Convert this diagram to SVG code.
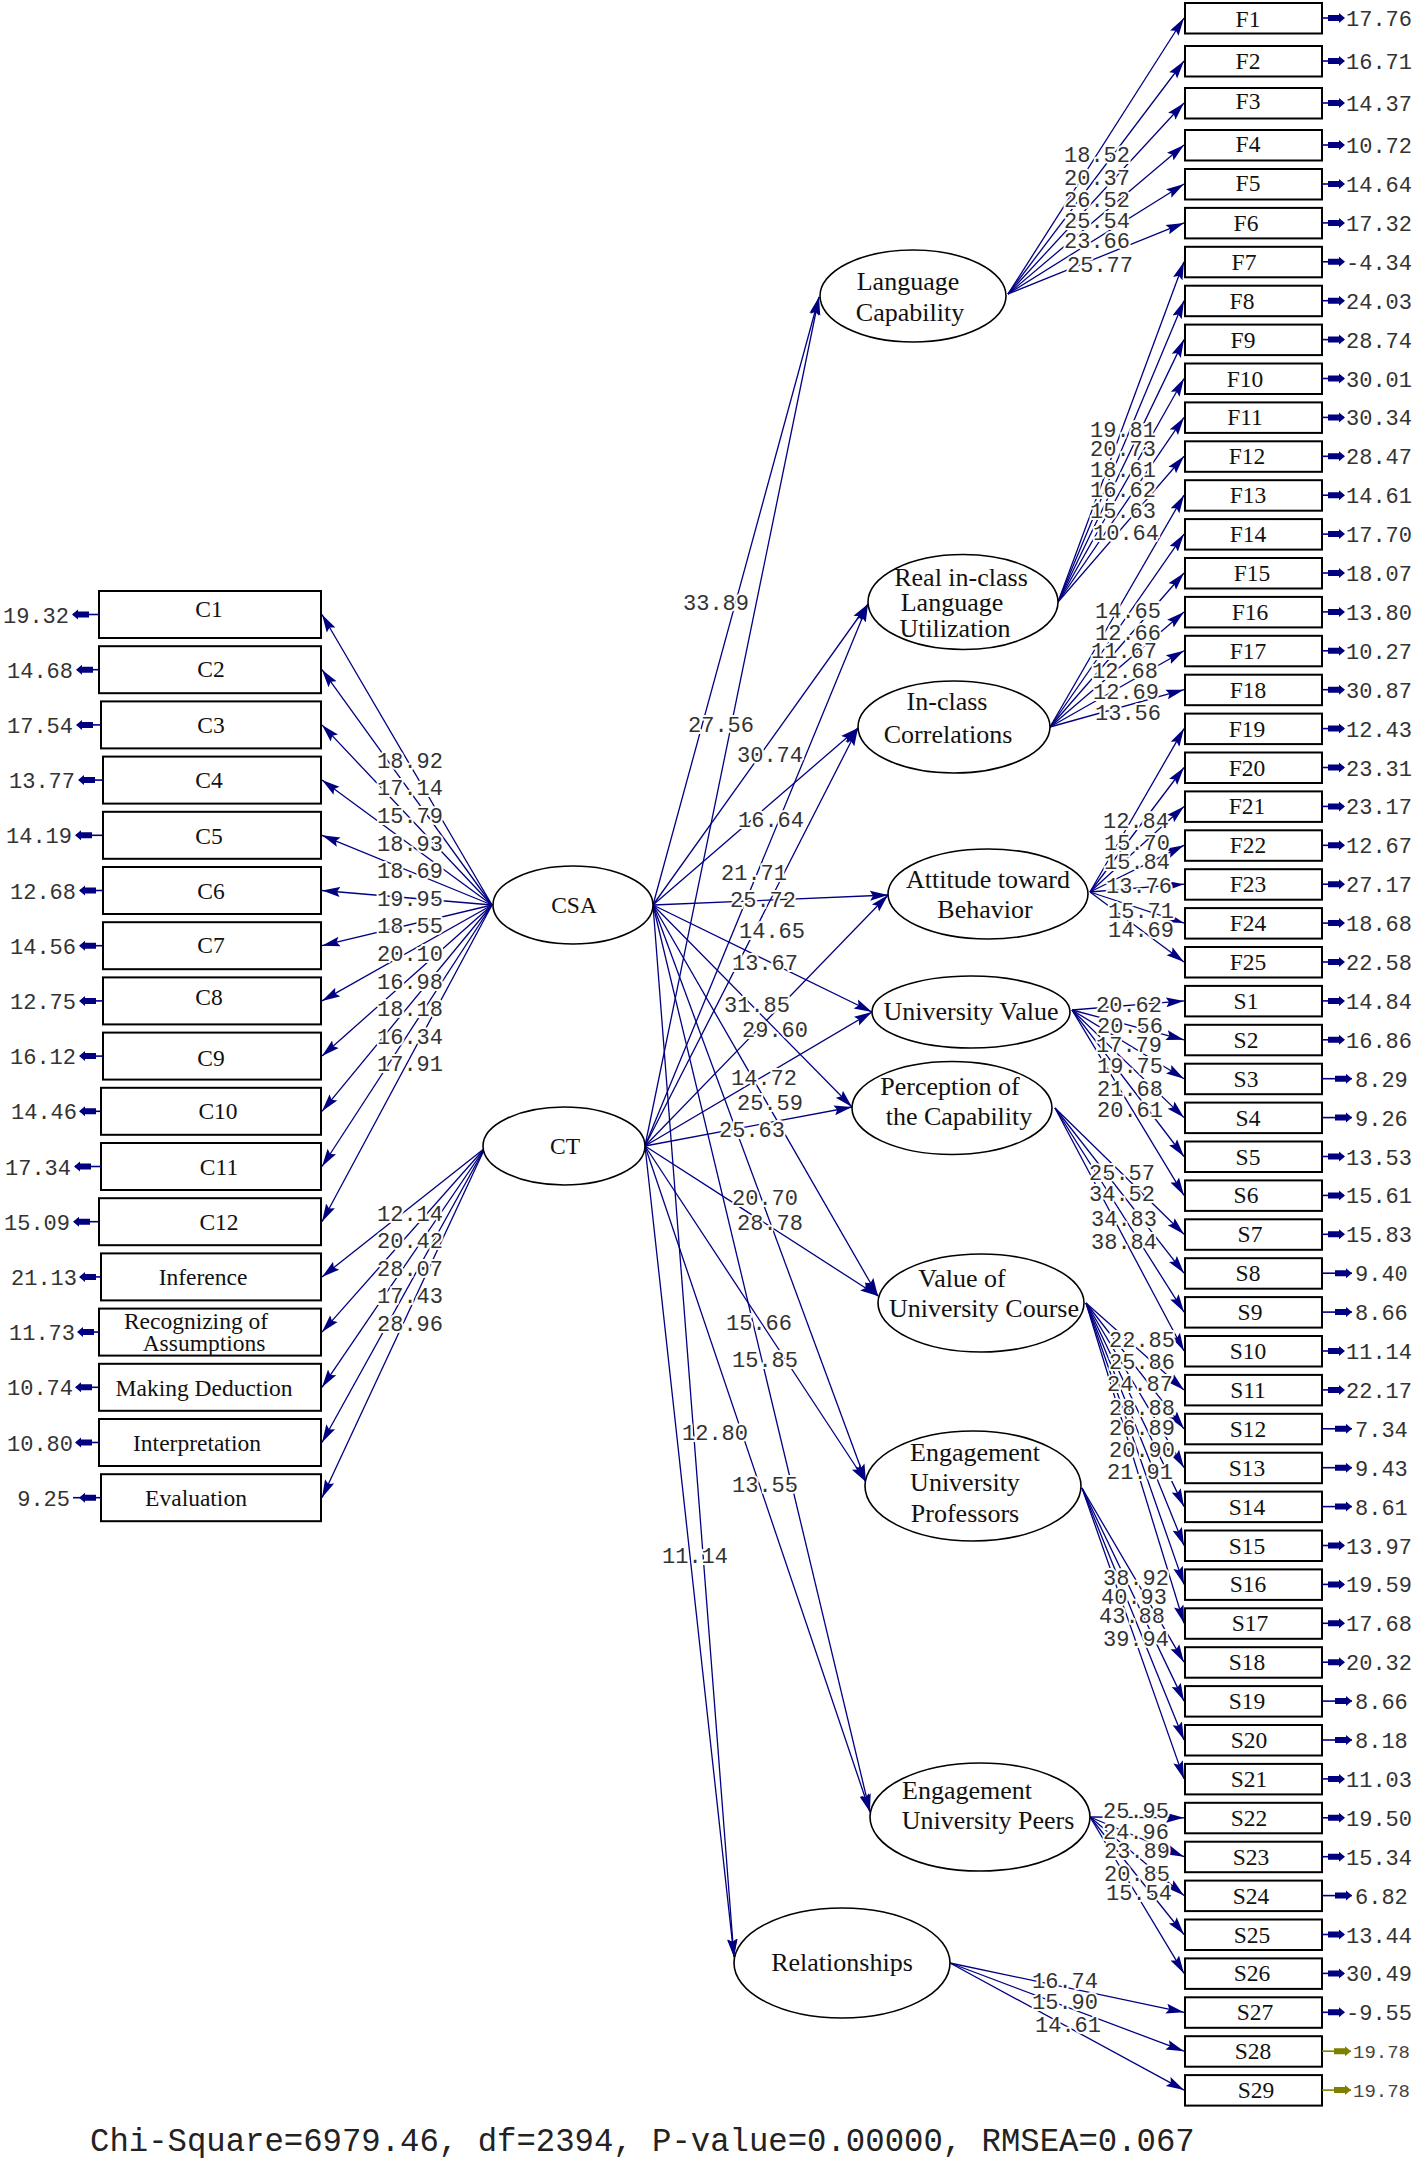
<svg xmlns="http://www.w3.org/2000/svg" xmlns:xlink="http://www.w3.org/1999/xlink" width="1416" height="2159" viewBox="0 0 1416 2159">
<style>
.ob{fill:#fff;stroke:#000;stroke-width:2}
.lat{fill:#fff;stroke:#000;stroke-width:1.6}
.bl{font-family:"Liberation Serif","Times New Roman",serif;font-size:23.5px;fill:#111;text-anchor:middle}
.ll{font-family:"Liberation Serif","Times New Roman",serif;font-size:26px;fill:#111;text-anchor:middle}
.num{font-family:"Liberation Mono","Courier New",monospace;font-size:22px;fill:#333}
.nl{text-anchor:middle;stroke:#fff;stroke-width:4;paint-order:stroke;stroke-linejoin:round}
.ve{text-anchor:end}
.p{stroke:#000080;stroke-width:1.3;fill:none;marker-end:url(#ah)}
.el{stroke:#000080;stroke-width:1.6}
.eh{fill:#000080}
.ol{stroke:#808000;stroke-width:1.6}
.oh{fill:#808000}
.sm{font-size:19px;fill:#444}
.chi{font-family:"Liberation Mono","Courier New",monospace;font-size:32.3px;fill:#222}
</style>
<defs>
<marker id="ah" viewBox="0 0 18 12" markerUnits="userSpaceOnUse" markerWidth="18" markerHeight="12" refX="18" refY="6" orient="auto"><path d="M0,1 L18,6 L0,11 L3,6 z" fill="#000080"/></marker>
<path id="ehL" d="M0,0 L6,-5 L6,-3 L17,-3 L17,3 L6,3 L6,5 z"/>
<path id="ehR" d="M0,0 L-6,-5 L-6,-3 L-17,-3 L-17,3 L-6,3 L-6,5 z"/>
</defs>
<rect width="1416" height="2159" fill="#fff"/>

<g id="connectors">
<line class="p" x1="492" y1="905" x2="322" y2="614.5"/>
<line class="p" x1="492" y1="905" x2="322" y2="669.7"/>
<line class="p" x1="492" y1="905" x2="322" y2="724.9"/>
<line class="p" x1="492" y1="905" x2="322" y2="780.1"/>
<line class="p" x1="492" y1="905" x2="322" y2="835.3"/>
<line class="p" x1="492" y1="905" x2="322" y2="890.5"/>
<line class="p" x1="492" y1="905" x2="322" y2="945.7"/>
<line class="p" x1="492" y1="905" x2="322" y2="1000.9"/>
<line class="p" x1="492" y1="905" x2="322" y2="1056.1"/>
<line class="p" x1="492" y1="905" x2="322" y2="1111.3"/>
<line class="p" x1="492" y1="905" x2="322" y2="1166.5"/>
<line class="p" x1="492" y1="905" x2="322" y2="1221.7"/>
<line class="p" x1="485" y1="1148" x2="322" y2="1276.9"/>
<line class="p" x1="485" y1="1148" x2="322" y2="1332.1"/>
<line class="p" x1="485" y1="1148" x2="322" y2="1387.3"/>
<line class="p" x1="485" y1="1148" x2="322" y2="1442.5"/>
<line class="p" x1="485" y1="1148" x2="322" y2="1497.7"/>
<line class="p" x1="653" y1="905" x2="819" y2="297"/>
<line class="p" x1="653" y1="905" x2="868" y2="604"/>
<line class="p" x1="653" y1="905" x2="858" y2="728"/>
<line class="p" x1="653" y1="905" x2="888" y2="895"/>
<line class="p" x1="653" y1="905" x2="872" y2="1012"/>
<line class="p" x1="653" y1="905" x2="852" y2="1107"/>
<line class="p" x1="653" y1="905" x2="878" y2="1296"/>
<line class="p" x1="653" y1="905" x2="866" y2="1482"/>
<line class="p" x1="653" y1="905" x2="870" y2="1812"/>
<line class="p" x1="653" y1="905" x2="734" y2="1957"/>
<line class="p" x1="645" y1="1146" x2="819" y2="297"/>
<line class="p" x1="645" y1="1146" x2="868" y2="604"/>
<line class="p" x1="645" y1="1146" x2="858" y2="728"/>
<line class="p" x1="645" y1="1146" x2="888" y2="895"/>
<line class="p" x1="645" y1="1146" x2="872" y2="1012"/>
<line class="p" x1="645" y1="1146" x2="852" y2="1107"/>
<line class="p" x1="645" y1="1146" x2="878" y2="1296"/>
<line class="p" x1="645" y1="1146" x2="866" y2="1482"/>
<line class="p" x1="645" y1="1146" x2="870" y2="1812"/>
<line class="p" x1="645" y1="1146" x2="734" y2="1957"/>
<line class="p" x1="1008" y1="294" x2="1184" y2="18"/>
<line class="p" x1="1008" y1="294" x2="1184" y2="61"/>
<line class="p" x1="1008" y1="294" x2="1184" y2="103"/>
<line class="p" x1="1008" y1="294" x2="1184" y2="145"/>
<line class="p" x1="1008" y1="294" x2="1184" y2="184"/>
<line class="p" x1="1008" y1="294" x2="1184" y2="222.9"/>
<line class="p" x1="1058" y1="602" x2="1184" y2="261.8"/>
<line class="p" x1="1058" y1="602" x2="1184" y2="300.7"/>
<line class="p" x1="1058" y1="602" x2="1184" y2="339.6"/>
<line class="p" x1="1058" y1="602" x2="1184" y2="378.5"/>
<line class="p" x1="1058" y1="602" x2="1184" y2="417.4"/>
<line class="p" x1="1058" y1="602" x2="1184" y2="456.3"/>
<line class="p" x1="1050" y1="727" x2="1184" y2="495.2"/>
<line class="p" x1="1050" y1="727" x2="1184" y2="534.1"/>
<line class="p" x1="1050" y1="727" x2="1184" y2="573"/>
<line class="p" x1="1050" y1="727" x2="1184" y2="611.9"/>
<line class="p" x1="1050" y1="727" x2="1184" y2="650.8"/>
<line class="p" x1="1050" y1="727" x2="1184" y2="689.7"/>
<line class="p" x1="1090" y1="892" x2="1184" y2="728.6"/>
<line class="p" x1="1090" y1="892" x2="1184" y2="767.5"/>
<line class="p" x1="1090" y1="892" x2="1184" y2="806.4"/>
<line class="p" x1="1090" y1="892" x2="1184" y2="845.3"/>
<line class="p" x1="1090" y1="892" x2="1184" y2="884.2"/>
<line class="p" x1="1090" y1="892" x2="1184" y2="923.1"/>
<line class="p" x1="1090" y1="892" x2="1184" y2="962"/>
<line class="p" x1="1072" y1="1010" x2="1184" y2="1000.9"/>
<line class="p" x1="1072" y1="1010" x2="1184" y2="1039.8"/>
<line class="p" x1="1072" y1="1010" x2="1184" y2="1078.7"/>
<line class="p" x1="1072" y1="1010" x2="1184" y2="1117.6"/>
<line class="p" x1="1072" y1="1010" x2="1184" y2="1156.5"/>
<line class="p" x1="1072" y1="1010" x2="1184" y2="1195.4"/>
<line class="p" x1="1055" y1="1108" x2="1184" y2="1234.3"/>
<line class="p" x1="1055" y1="1108" x2="1184" y2="1273.2"/>
<line class="p" x1="1055" y1="1108" x2="1184" y2="1312.1"/>
<line class="p" x1="1055" y1="1108" x2="1184" y2="1351"/>
<line class="p" x1="1086" y1="1303" x2="1184" y2="1389.9"/>
<line class="p" x1="1086" y1="1303" x2="1184" y2="1428.8"/>
<line class="p" x1="1086" y1="1303" x2="1184" y2="1467.7"/>
<line class="p" x1="1086" y1="1303" x2="1184" y2="1506.6"/>
<line class="p" x1="1086" y1="1303" x2="1184" y2="1545.5"/>
<line class="p" x1="1086" y1="1303" x2="1184" y2="1584.4"/>
<line class="p" x1="1086" y1="1303" x2="1184" y2="1623.3"/>
<line class="p" x1="1082" y1="1488" x2="1184" y2="1662.2"/>
<line class="p" x1="1082" y1="1488" x2="1184" y2="1701.1"/>
<line class="p" x1="1082" y1="1488" x2="1184" y2="1740"/>
<line class="p" x1="1082" y1="1488" x2="1184" y2="1778.9"/>
<line class="p" x1="1090" y1="1817" x2="1184" y2="1817.8"/>
<line class="p" x1="1090" y1="1817" x2="1184" y2="1856.7"/>
<line class="p" x1="1090" y1="1817" x2="1184" y2="1895.6"/>
<line class="p" x1="1090" y1="1817" x2="1184" y2="1934.5"/>
<line class="p" x1="1090" y1="1817" x2="1184" y2="1973.4"/>
<line class="p" x1="950" y1="1963" x2="1184" y2="2012.3"/>
<line class="p" x1="950" y1="1963" x2="1184" y2="2051.2"/>
<line class="p" x1="950" y1="1963" x2="1184" y2="2090.1"/>

<g class="num nl">
<text x="410" y="768">18.92</text>
<text x="410" y="795">17.14</text>
<text x="410" y="823">15.79</text>
<text x="410" y="851">18.93</text>
<text x="410" y="878">18.69</text>
<text x="410" y="906">19.95</text>
<text x="410" y="933">18.55</text>
<text x="410" y="961">20.10</text>
<text x="410" y="989">16.98</text>
<text x="410" y="1016">18.18</text>
<text x="410" y="1044">16.34</text>
<text x="410" y="1071">17.91</text>
<text x="410" y="1221">12.14</text>
<text x="410" y="1248">20.42</text>
<text x="410" y="1276">28.07</text>
<text x="410" y="1303">17.43</text>
<text x="410" y="1331">28.96</text>
<text x="716" y="610">33.89</text>
<text x="721" y="732">27.56</text>
<text x="770" y="762">30.74</text>
<text x="771" y="827">16.64</text>
<text x="754" y="880">21.71</text>
<text x="763" y="907">25.72</text>
<text x="772" y="938">14.65</text>
<text x="765" y="970">13.67</text>
<text x="757" y="1012">31.85</text>
<text x="775" y="1037">29.60</text>
<text x="764" y="1085">14.72</text>
<text x="770" y="1110">25.59</text>
<text x="752" y="1137">25.63</text>
<text x="765" y="1205">20.70</text>
<text x="770" y="1230">28.78</text>
<text x="759" y="1330">15.66</text>
<text x="765" y="1367">15.85</text>
<text x="715" y="1440">12.80</text>
<text x="765" y="1492">13.55</text>
<text x="695" y="1563">11.14</text>
<text x="1097" y="162">18.52</text>
<text x="1097" y="185">20.37</text>
<text x="1097" y="207">26.52</text>
<text x="1097" y="228">25.54</text>
<text x="1097" y="248">23.66</text>
<text x="1100" y="272">25.77</text>
<text x="1123" y="437">19.81</text>
<text x="1123" y="456">20.73</text>
<text x="1123" y="477">18.61</text>
<text x="1123" y="497">16.62</text>
<text x="1123" y="518">15.63</text>
<text x="1126" y="540">10.64</text>
<text x="1128" y="618">14.65</text>
<text x="1128" y="640">12.66</text>
<text x="1124" y="658">11.67</text>
<text x="1125" y="678">12.68</text>
<text x="1126" y="699">12.69</text>
<text x="1128" y="720">13.56</text>
<text x="1136" y="828">12.84</text>
<text x="1137" y="850">15.70</text>
<text x="1137" y="869">15.84</text>
<text x="1139" y="893">13.76</text>
<text x="1141" y="918">15.71</text>
<text x="1141" y="937">14.69</text>
<text x="1129" y="1012">20.62</text>
<text x="1130" y="1033">20.56</text>
<text x="1129" y="1052">17.79</text>
<text x="1130" y="1073">19.75</text>
<text x="1130" y="1096">21.68</text>
<text x="1130" y="1117">20.61</text>
<text x="1122" y="1180">25.57</text>
<text x="1122" y="1201">34.52</text>
<text x="1124" y="1226">34.83</text>
<text x="1124" y="1249">38.84</text>
<text x="1142" y="1347">22.85</text>
<text x="1142" y="1369">25.86</text>
<text x="1140" y="1391">24.87</text>
<text x="1142" y="1415">28.88</text>
<text x="1142" y="1435">26.89</text>
<text x="1142" y="1457">20.90</text>
<text x="1140" y="1479">21.91</text>
<text x="1136" y="1585">38.92</text>
<text x="1134" y="1604">40.93</text>
<text x="1132" y="1623">43.88</text>
<text x="1136" y="1646">39.94</text>
<text x="1136" y="1818">25.95</text>
<text x="1136" y="1839">24.96</text>
<text x="1137" y="1858">23.89</text>
<text x="1137" y="1881">20.85</text>
<text x="1139" y="1900">15.54</text>
<text x="1065" y="1988">16.74</text>
<text x="1065" y="2009">15.90</text>
<text x="1068" y="2032">14.61</text>
</g>
</g>

<g id="C1" transform="translate(0,591)"><rect class="ob" x="99" y="0" width="222" height="47"/><text class="bl" x="209" y="26">C1</text><line class="el" x1="73" y1="23.5" x2="99" y2="23.5"/><use href="#ehL" class="eh" x="72" y="23.5"/><text class="num ve" x="69" y="31.5">19.32</text></g>
<g id="C2" transform="translate(0,646.2)"><rect class="ob" x="99" y="0" width="222" height="47"/><text class="bl" x="211" y="31">C2</text><line class="el" x1="77" y1="23.5" x2="99" y2="23.5"/><use href="#ehL" class="eh" x="76" y="23.5"/><text class="num ve" x="73" y="31.5">14.68</text></g>
<g id="C3" transform="translate(0,701.4)"><rect class="ob" x="101" y="0" width="220" height="47"/><text class="bl" x="211" y="32">C3</text><line class="el" x1="77" y1="23.5" x2="101" y2="23.5"/><use href="#ehL" class="eh" x="76" y="23.5"/><text class="num ve" x="73" y="31.5">17.54</text></g>
<g id="C4" transform="translate(0,756.6)"><rect class="ob" x="103" y="0" width="218" height="47"/><text class="bl" x="209" y="31">C4</text><line class="el" x1="79" y1="23.5" x2="103" y2="23.5"/><use href="#ehL" class="eh" x="78" y="23.5"/><text class="num ve" x="75" y="31.5">13.77</text></g>
<g id="C5" transform="translate(0,811.8)"><rect class="ob" x="103" y="0" width="218" height="47"/><text class="bl" x="209" y="32">C5</text><line class="el" x1="76" y1="23.5" x2="103" y2="23.5"/><use href="#ehL" class="eh" x="75" y="23.5"/><text class="num ve" x="72" y="31.5">14.19</text></g>
<g id="C6" transform="translate(0,867)"><rect class="ob" x="103" y="0" width="218" height="47"/><text class="bl" x="211" y="32">C6</text><line class="el" x1="80" y1="23.5" x2="103" y2="23.5"/><use href="#ehL" class="eh" x="79" y="23.5"/><text class="num ve" x="76" y="31.5">12.68</text></g>
<g id="C7" transform="translate(0,922.2)"><rect class="ob" x="103" y="0" width="218" height="47"/><text class="bl" x="211" y="31">C7</text><line class="el" x1="80" y1="23.5" x2="103" y2="23.5"/><use href="#ehL" class="eh" x="79" y="23.5"/><text class="num ve" x="76" y="31.5">14.56</text></g>
<g id="C8" transform="translate(0,977.4)"><rect class="ob" x="103" y="0" width="218" height="47"/><text class="bl" x="209" y="28">C8</text><line class="el" x1="80" y1="23.5" x2="103" y2="23.5"/><use href="#ehL" class="eh" x="79" y="23.5"/><text class="num ve" x="76" y="31.5">12.75</text></g>
<g id="C9" transform="translate(0,1032.6)"><rect class="ob" x="103" y="0" width="218" height="47"/><text class="bl" x="211" y="33">C9</text><line class="el" x1="80" y1="23.5" x2="103" y2="23.5"/><use href="#ehL" class="eh" x="79" y="23.5"/><text class="num ve" x="76" y="31.5">16.12</text></g>
<g id="C10" transform="translate(0,1087.8)"><rect class="ob" x="101" y="0" width="220" height="47"/><text class="bl" x="218" y="31.5">C10</text><line class="el" x1="80" y1="23.5" x2="101" y2="23.5"/><use href="#ehL" class="eh" x="79" y="23.5"/><text class="num ve" x="77" y="31.5">14.46</text></g>
<g id="C11" transform="translate(0,1143)"><rect class="ob" x="101" y="0" width="220" height="47"/><text class="bl" x="219" y="31.5">C11</text><line class="el" x1="75" y1="23.5" x2="101" y2="23.5"/><use href="#ehL" class="eh" x="74" y="23.5"/><text class="num ve" x="71" y="31.5">17.34</text></g>
<g id="C12" transform="translate(0,1198.2)"><rect class="ob" x="99" y="0" width="222" height="47"/><text class="bl" x="219" y="31.5">C12</text><line class="el" x1="74" y1="23.5" x2="99" y2="23.5"/><use href="#ehL" class="eh" x="73" y="23.5"/><text class="num ve" x="70" y="31.5">15.09</text></g>
<g id="Inference" transform="translate(0,1253.4)"><rect class="ob" x="101" y="0" width="220" height="47"/><text class="bl" x="203" y="31.5">Inference</text><line class="el" x1="80" y1="23.5" x2="101" y2="23.5"/><use href="#ehL" class="eh" x="79" y="23.5"/><text class="num ve" x="77" y="31.5">21.13</text></g>
<g id="Recognizing" transform="translate(0,1308.6)"><rect class="ob" x="99" y="0" width="222" height="47"/><text class="bl" x="196" y="20.5">Recognizing of</text><text class="bl" x="204" y="42.5">Assumptions</text><line class="el" x1="78" y1="23.5" x2="99" y2="23.5"/><use href="#ehL" class="eh" x="77" y="23.5"/><text class="num ve" x="75" y="31.5">11.73</text></g>
<g id="MakingDeduction" transform="translate(0,1363.8)"><rect class="ob" x="99" y="0" width="222" height="47"/><text class="bl" x="204" y="32.5">Making Deduction</text><line class="el" x1="76" y1="23.5" x2="99" y2="23.5"/><use href="#ehL" class="eh" x="75" y="23.5"/><text class="num ve" x="73" y="31.5">10.74</text></g>
<g id="Interpretation" transform="translate(0,1419)"><rect class="ob" x="99" y="0" width="222" height="47"/><text class="bl" x="197" y="31.5">Interpretation</text><line class="el" x1="76" y1="23.5" x2="99" y2="23.5"/><use href="#ehL" class="eh" x="75" y="23.5"/><text class="num ve" x="73" y="31.5">10.80</text></g>
<g id="Evaluation" transform="translate(0,1474.2)"><rect class="ob" x="101" y="0" width="220" height="47"/><text class="bl" x="196" y="31.5">Evaluation</text><line class="el" x1="73" y1="23.5" x2="101" y2="23.5"/><use href="#ehL" class="eh" x="79" y="23.5"/><text class="num ve" x="70" y="31.5">9.25</text></g>

<g id="CSA"><ellipse class="lat" cx="573" cy="905" rx="80" ry="39"/><text class="bl" x="574" y="913">CSA</text></g>
<g id="CT"><ellipse class="lat" cx="564" cy="1146" rx="81" ry="39"/><text class="bl" x="565" y="1154">CT</text></g>
<g id="LanguageCapability"><ellipse class="lat" cx="913" cy="296" rx="93" ry="46"/><text class="ll" x="908" y="290">Language</text><text class="ll" x="910" y="321">Capability</text></g>
<g id="RealInClass"><ellipse class="lat" cx="963" cy="602" rx="95" ry="47.5"/><text class="ll" x="961" y="586">Real in-class</text><text class="ll" x="952" y="611">Language</text><text class="ll" x="955" y="637">Utilization</text></g>
<g id="InClassCorrelations"><ellipse class="lat" cx="954" cy="727" rx="96" ry="46"/><text class="ll" x="947" y="710">In-class</text><text class="ll" x="948" y="743">Correlations</text></g>
<g id="AttitudeTowardBehavior"><ellipse class="lat" cx="988" cy="894" rx="100" ry="45"/><text class="ll" x="988" y="888">Attitude toward</text><text class="ll" x="985" y="918">Behavior</text></g>
<g id="UniversityValue"><ellipse class="lat" cx="971" cy="1012" rx="99" ry="36"/><text class="ll" x="971" y="1020">University Value</text></g>
<g id="PerceptionCapability"><ellipse class="lat" cx="952" cy="1108" rx="100" ry="46.5"/><text class="ll" x="950" y="1095">Perception of</text><text class="ll" x="959" y="1125">the Capability</text></g>
<g id="ValueUniversityCourse"><ellipse class="lat" cx="981" cy="1303" rx="103" ry="49"/><text class="ll" x="962" y="1287">Value of</text><text class="ll" x="984" y="1317">University Course</text></g>
<g id="EngagementProfessors"><ellipse class="lat" cx="973" cy="1486" rx="108" ry="55"/><text class="ll" x="975" y="1461">Engagement</text><text class="ll" x="965" y="1491">University</text><text class="ll" x="965" y="1522">Professors</text></g>
<g id="EngagementPeers"><ellipse class="lat" cx="980" cy="1817" rx="110" ry="54"/><text class="ll" x="967" y="1799">Engagement</text><text class="ll" x="988" y="1829">University Peers</text></g>
<g id="Relationships"><ellipse class="lat" cx="842" cy="1963" rx="108" ry="55"/><text class="ll" x="842" y="1971">Relationships</text></g>

<g id="F1" transform="translate(0,3)"><rect class="ob" x="1185" y="0" width="137" height="30.5"/><text class="bl" x="1248" y="24">F1</text><line class="el" x1="1322" y1="15" x2="1344" y2="15"/><use href="#ehR" class="eh" x="1345" y="15"/><text class="num" x="1346" y="23">17.76</text></g>
<g id="F2" transform="translate(0,46)"><rect class="ob" x="1185" y="0" width="137" height="30.5"/><text class="bl" x="1248" y="23">F2</text><line class="el" x1="1322" y1="15" x2="1344" y2="15"/><use href="#ehR" class="eh" x="1345" y="15"/><text class="num" x="1346" y="23">16.71</text></g>
<g id="F3" transform="translate(0,88)"><rect class="ob" x="1185" y="0" width="137" height="30.5"/><text class="bl" x="1248" y="21">F3</text><line class="el" x1="1322" y1="15" x2="1344" y2="15"/><use href="#ehR" class="eh" x="1345" y="15"/><text class="num" x="1346" y="23">14.37</text></g>
<g id="F4" transform="translate(0,130)"><rect class="ob" x="1185" y="0" width="137" height="30.5"/><text class="bl" x="1248" y="22">F4</text><line class="el" x1="1322" y1="15" x2="1344" y2="15"/><use href="#ehR" class="eh" x="1345" y="15"/><text class="num" x="1346" y="23">10.72</text></g>
<g id="F5" transform="translate(0,169)"><rect class="ob" x="1185" y="0" width="137" height="30.5"/><text class="bl" x="1248" y="22">F5</text><line class="el" x1="1322" y1="15" x2="1344" y2="15"/><use href="#ehR" class="eh" x="1345" y="15"/><text class="num" x="1346" y="23">14.64</text></g>
<g id="F6" transform="translate(0,207.9)"><rect class="ob" x="1185" y="0" width="137" height="30.5"/><text class="bl" x="1246" y="23">F6</text><line class="el" x1="1322" y1="15" x2="1344" y2="15"/><use href="#ehR" class="eh" x="1345" y="15"/><text class="num" x="1346" y="23">17.32</text></g>
<g id="F7" transform="translate(0,246.8)"><rect class="ob" x="1185" y="0" width="137" height="30.5"/><text class="bl" x="1244" y="23">F7</text><line class="el" x1="1322" y1="15" x2="1344" y2="15"/><use href="#ehR" class="eh" x="1345" y="15"/><text class="num" x="1346" y="23">-4.34</text></g>
<g id="F8" transform="translate(0,285.7)"><rect class="ob" x="1185" y="0" width="137" height="30.5"/><text class="bl" x="1242" y="23">F8</text><line class="el" x1="1322" y1="15" x2="1344" y2="15"/><use href="#ehR" class="eh" x="1345" y="15"/><text class="num" x="1346" y="23">24.03</text></g>
<g id="F9" transform="translate(0,324.6)"><rect class="ob" x="1185" y="0" width="137" height="30.5"/><text class="bl" x="1243" y="23">F9</text><line class="el" x1="1322" y1="15" x2="1344" y2="15"/><use href="#ehR" class="eh" x="1345" y="15"/><text class="num" x="1346" y="23">28.74</text></g>
<g id="F10" transform="translate(0,363.5)"><rect class="ob" x="1185" y="0" width="137" height="30.5"/><text class="bl" x="1245" y="23">F10</text><line class="el" x1="1322" y1="15" x2="1344" y2="15"/><use href="#ehR" class="eh" x="1345" y="15"/><text class="num" x="1346" y="23">30.01</text></g>
<g id="F11" transform="translate(0,402.4)"><rect class="ob" x="1185" y="0" width="137" height="30.5"/><text class="bl" x="1245" y="23">F11</text><line class="el" x1="1322" y1="15" x2="1344" y2="15"/><use href="#ehR" class="eh" x="1345" y="15"/><text class="num" x="1346" y="23">30.34</text></g>
<g id="F12" transform="translate(0,441.3)"><rect class="ob" x="1185" y="0" width="137" height="30.5"/><text class="bl" x="1247" y="23">F12</text><line class="el" x1="1322" y1="15" x2="1344" y2="15"/><use href="#ehR" class="eh" x="1345" y="15"/><text class="num" x="1346" y="23">28.47</text></g>
<g id="F13" transform="translate(0,480.2)"><rect class="ob" x="1185" y="0" width="137" height="30.5"/><text class="bl" x="1248" y="23">F13</text><line class="el" x1="1322" y1="15" x2="1344" y2="15"/><use href="#ehR" class="eh" x="1345" y="15"/><text class="num" x="1346" y="23">14.61</text></g>
<g id="F14" transform="translate(0,519.1)"><rect class="ob" x="1185" y="0" width="137" height="30.5"/><text class="bl" x="1248" y="23">F14</text><line class="el" x1="1322" y1="15" x2="1344" y2="15"/><use href="#ehR" class="eh" x="1345" y="15"/><text class="num" x="1346" y="23">17.70</text></g>
<g id="F15" transform="translate(0,558)"><rect class="ob" x="1185" y="0" width="137" height="30.5"/><text class="bl" x="1252" y="23">F15</text><line class="el" x1="1322" y1="15" x2="1344" y2="15"/><use href="#ehR" class="eh" x="1345" y="15"/><text class="num" x="1346" y="23">18.07</text></g>
<g id="F16" transform="translate(0,596.9)"><rect class="ob" x="1185" y="0" width="137" height="30.5"/><text class="bl" x="1250" y="23">F16</text><line class="el" x1="1322" y1="15" x2="1344" y2="15"/><use href="#ehR" class="eh" x="1345" y="15"/><text class="num" x="1346" y="23">13.80</text></g>
<g id="F17" transform="translate(0,635.8)"><rect class="ob" x="1185" y="0" width="137" height="30.5"/><text class="bl" x="1248" y="23">F17</text><line class="el" x1="1322" y1="15" x2="1344" y2="15"/><use href="#ehR" class="eh" x="1345" y="15"/><text class="num" x="1346" y="23">10.27</text></g>
<g id="F18" transform="translate(0,674.7)"><rect class="ob" x="1185" y="0" width="137" height="30.5"/><text class="bl" x="1248" y="23">F18</text><line class="el" x1="1322" y1="15" x2="1344" y2="15"/><use href="#ehR" class="eh" x="1345" y="15"/><text class="num" x="1346" y="23">30.87</text></g>
<g id="F19" transform="translate(0,713.6)"><rect class="ob" x="1185" y="0" width="137" height="30.5"/><text class="bl" x="1247" y="23">F19</text><line class="el" x1="1322" y1="15" x2="1344" y2="15"/><use href="#ehR" class="eh" x="1345" y="15"/><text class="num" x="1346" y="23">12.43</text></g>
<g id="F20" transform="translate(0,752.5)"><rect class="ob" x="1185" y="0" width="137" height="30.5"/><text class="bl" x="1247" y="23">F20</text><line class="el" x1="1322" y1="15" x2="1344" y2="15"/><use href="#ehR" class="eh" x="1345" y="15"/><text class="num" x="1346" y="23">23.31</text></g>
<g id="F21" transform="translate(0,791.4)"><rect class="ob" x="1185" y="0" width="137" height="30.5"/><text class="bl" x="1247" y="23">F21</text><line class="el" x1="1322" y1="15" x2="1344" y2="15"/><use href="#ehR" class="eh" x="1345" y="15"/><text class="num" x="1346" y="23">23.17</text></g>
<g id="F22" transform="translate(0,830.3)"><rect class="ob" x="1185" y="0" width="137" height="30.5"/><text class="bl" x="1248" y="23">F22</text><line class="el" x1="1322" y1="15" x2="1344" y2="15"/><use href="#ehR" class="eh" x="1345" y="15"/><text class="num" x="1346" y="23">12.67</text></g>
<g id="F23" transform="translate(0,869.2)"><rect class="ob" x="1185" y="0" width="137" height="30.5"/><text class="bl" x="1248" y="23">F23</text><line class="el" x1="1322" y1="15" x2="1344" y2="15"/><use href="#ehR" class="eh" x="1345" y="15"/><text class="num" x="1346" y="23">27.17</text></g>
<g id="F24" transform="translate(0,908.1)"><rect class="ob" x="1185" y="0" width="137" height="30.5"/><text class="bl" x="1248" y="23">F24</text><line class="el" x1="1322" y1="15" x2="1344" y2="15"/><use href="#ehR" class="eh" x="1345" y="15"/><text class="num" x="1346" y="23">18.68</text></g>
<g id="F25" transform="translate(0,947)"><rect class="ob" x="1185" y="0" width="137" height="30.5"/><text class="bl" x="1248" y="23">F25</text><line class="el" x1="1322" y1="15" x2="1344" y2="15"/><use href="#ehR" class="eh" x="1345" y="15"/><text class="num" x="1346" y="23">22.58</text></g>
<g id="S1" transform="translate(0,985.9)"><rect class="ob" x="1185" y="0" width="137" height="30.5"/><text class="bl" x="1246" y="23">S1</text><line class="el" x1="1322" y1="15" x2="1344" y2="15"/><use href="#ehR" class="eh" x="1345" y="15"/><text class="num" x="1346" y="23">14.84</text></g>
<g id="S2" transform="translate(0,1024.8)"><rect class="ob" x="1185" y="0" width="137" height="30.5"/><text class="bl" x="1246" y="23">S2</text><line class="el" x1="1322" y1="15" x2="1344" y2="15"/><use href="#ehR" class="eh" x="1345" y="15"/><text class="num" x="1346" y="23">16.86</text></g>
<g id="S3" transform="translate(0,1063.7)"><rect class="ob" x="1185" y="0" width="137" height="30.5"/><text class="bl" x="1246" y="23">S3</text><line class="el" x1="1322" y1="15" x2="1352" y2="15"/><use href="#ehR" class="eh" x="1352" y="15"/><text class="num" x="1355" y="23">8.29</text></g>
<g id="S4" transform="translate(0,1102.6)"><rect class="ob" x="1185" y="0" width="137" height="30.5"/><text class="bl" x="1248" y="23">S4</text><line class="el" x1="1322" y1="15" x2="1352" y2="15"/><use href="#ehR" class="eh" x="1352" y="15"/><text class="num" x="1355" y="23">9.26</text></g>
<g id="S5" transform="translate(0,1141.5)"><rect class="ob" x="1185" y="0" width="137" height="30.5"/><text class="bl" x="1248" y="23">S5</text><line class="el" x1="1322" y1="15" x2="1344" y2="15"/><use href="#ehR" class="eh" x="1345" y="15"/><text class="num" x="1346" y="23">13.53</text></g>
<g id="S6" transform="translate(0,1180.4)"><rect class="ob" x="1185" y="0" width="137" height="30.5"/><text class="bl" x="1246" y="23">S6</text><line class="el" x1="1322" y1="15" x2="1344" y2="15"/><use href="#ehR" class="eh" x="1345" y="15"/><text class="num" x="1346" y="23">15.61</text></g>
<g id="S7" transform="translate(0,1219.3)"><rect class="ob" x="1185" y="0" width="137" height="30.5"/><text class="bl" x="1250" y="23">S7</text><line class="el" x1="1322" y1="15" x2="1344" y2="15"/><use href="#ehR" class="eh" x="1345" y="15"/><text class="num" x="1346" y="23">15.83</text></g>
<g id="S8" transform="translate(0,1258.2)"><rect class="ob" x="1185" y="0" width="137" height="30.5"/><text class="bl" x="1248" y="23">S8</text><line class="el" x1="1322" y1="15" x2="1352" y2="15"/><use href="#ehR" class="eh" x="1352" y="15"/><text class="num" x="1355" y="23">9.40</text></g>
<g id="S9" transform="translate(0,1297.1)"><rect class="ob" x="1185" y="0" width="137" height="30.5"/><text class="bl" x="1250" y="23">S9</text><line class="el" x1="1322" y1="15" x2="1352" y2="15"/><use href="#ehR" class="eh" x="1352" y="15"/><text class="num" x="1355" y="23">8.66</text></g>
<g id="S10" transform="translate(0,1336)"><rect class="ob" x="1185" y="0" width="137" height="30.5"/><text class="bl" x="1248" y="23">S10</text><line class="el" x1="1322" y1="15" x2="1344" y2="15"/><use href="#ehR" class="eh" x="1345" y="15"/><text class="num" x="1346" y="23">11.14</text></g>
<g id="S11" transform="translate(0,1374.9)"><rect class="ob" x="1185" y="0" width="137" height="30.5"/><text class="bl" x="1248" y="23">S11</text><line class="el" x1="1322" y1="15" x2="1344" y2="15"/><use href="#ehR" class="eh" x="1345" y="15"/><text class="num" x="1346" y="23">22.17</text></g>
<g id="S12" transform="translate(0,1413.8)"><rect class="ob" x="1185" y="0" width="137" height="30.5"/><text class="bl" x="1248" y="23">S12</text><line class="el" x1="1322" y1="15" x2="1352" y2="15"/><use href="#ehR" class="eh" x="1352" y="15"/><text class="num" x="1355" y="23">7.34</text></g>
<g id="S13" transform="translate(0,1452.7)"><rect class="ob" x="1185" y="0" width="137" height="30.5"/><text class="bl" x="1247" y="23">S13</text><line class="el" x1="1322" y1="15" x2="1352" y2="15"/><use href="#ehR" class="eh" x="1352" y="15"/><text class="num" x="1355" y="23">9.43</text></g>
<g id="S14" transform="translate(0,1491.6)"><rect class="ob" x="1185" y="0" width="137" height="30.5"/><text class="bl" x="1247" y="23">S14</text><line class="el" x1="1322" y1="15" x2="1352" y2="15"/><use href="#ehR" class="eh" x="1352" y="15"/><text class="num" x="1355" y="23">8.61</text></g>
<g id="S15" transform="translate(0,1530.5)"><rect class="ob" x="1185" y="0" width="137" height="30.5"/><text class="bl" x="1247" y="23">S15</text><line class="el" x1="1322" y1="15" x2="1344" y2="15"/><use href="#ehR" class="eh" x="1345" y="15"/><text class="num" x="1346" y="23">13.97</text></g>
<g id="S16" transform="translate(0,1569.4)"><rect class="ob" x="1185" y="0" width="137" height="30.5"/><text class="bl" x="1248" y="23">S16</text><line class="el" x1="1322" y1="15" x2="1344" y2="15"/><use href="#ehR" class="eh" x="1345" y="15"/><text class="num" x="1346" y="23">19.59</text></g>
<g id="S17" transform="translate(0,1608.3)"><rect class="ob" x="1185" y="0" width="137" height="30.5"/><text class="bl" x="1250" y="23">S17</text><line class="el" x1="1322" y1="15" x2="1344" y2="15"/><use href="#ehR" class="eh" x="1345" y="15"/><text class="num" x="1346" y="23">17.68</text></g>
<g id="S18" transform="translate(0,1647.2)"><rect class="ob" x="1185" y="0" width="137" height="30.5"/><text class="bl" x="1247" y="23">S18</text><line class="el" x1="1322" y1="15" x2="1344" y2="15"/><use href="#ehR" class="eh" x="1345" y="15"/><text class="num" x="1346" y="23">20.32</text></g>
<g id="S19" transform="translate(0,1686.1)"><rect class="ob" x="1185" y="0" width="137" height="30.5"/><text class="bl" x="1247" y="23">S19</text><line class="el" x1="1322" y1="15" x2="1352" y2="15"/><use href="#ehR" class="eh" x="1352" y="15"/><text class="num" x="1355" y="23">8.66</text></g>
<g id="S20" transform="translate(0,1725)"><rect class="ob" x="1185" y="0" width="137" height="30.5"/><text class="bl" x="1249" y="23">S20</text><line class="el" x1="1322" y1="15" x2="1352" y2="15"/><use href="#ehR" class="eh" x="1352" y="15"/><text class="num" x="1355" y="23">8.18</text></g>
<g id="S21" transform="translate(0,1763.9)"><rect class="ob" x="1185" y="0" width="137" height="30.5"/><text class="bl" x="1249" y="23">S21</text><line class="el" x1="1322" y1="15" x2="1344" y2="15"/><use href="#ehR" class="eh" x="1345" y="15"/><text class="num" x="1346" y="23">11.03</text></g>
<g id="S22" transform="translate(0,1802.8)"><rect class="ob" x="1185" y="0" width="137" height="30.5"/><text class="bl" x="1249" y="23">S22</text><line class="el" x1="1322" y1="15" x2="1344" y2="15"/><use href="#ehR" class="eh" x="1345" y="15"/><text class="num" x="1346" y="23">19.50</text></g>
<g id="S23" transform="translate(0,1841.7)"><rect class="ob" x="1185" y="0" width="137" height="30.5"/><text class="bl" x="1251" y="23">S23</text><line class="el" x1="1322" y1="15" x2="1344" y2="15"/><use href="#ehR" class="eh" x="1345" y="15"/><text class="num" x="1346" y="23">15.34</text></g>
<g id="S24" transform="translate(0,1880.6)"><rect class="ob" x="1185" y="0" width="137" height="30.5"/><text class="bl" x="1251" y="23">S24</text><line class="el" x1="1322" y1="15" x2="1352" y2="15"/><use href="#ehR" class="eh" x="1352" y="15"/><text class="num" x="1355" y="23">6.82</text></g>
<g id="S25" transform="translate(0,1919.5)"><rect class="ob" x="1185" y="0" width="137" height="30.5"/><text class="bl" x="1252" y="23">S25</text><line class="el" x1="1322" y1="15" x2="1344" y2="15"/><use href="#ehR" class="eh" x="1345" y="15"/><text class="num" x="1346" y="23">13.44</text></g>
<g id="S26" transform="translate(0,1958.4)"><rect class="ob" x="1185" y="0" width="137" height="30.5"/><text class="bl" x="1252" y="23">S26</text><line class="el" x1="1322" y1="15" x2="1344" y2="15"/><use href="#ehR" class="eh" x="1345" y="15"/><text class="num" x="1346" y="23">30.49</text></g>
<g id="S27" transform="translate(0,1997.3)"><rect class="ob" x="1185" y="0" width="137" height="30.5"/><text class="bl" x="1255" y="23">S27</text><line class="el" x1="1322" y1="15" x2="1344" y2="15"/><use href="#ehR" class="eh" x="1345" y="15"/><text class="num" x="1346" y="23">-9.55</text></g>
<g id="S28" transform="translate(0,2036.2)"><rect class="ob" x="1185" y="0" width="137" height="30.5"/><text class="bl" x="1253" y="23">S28</text><line class="ol" x1="1322" y1="15" x2="1351" y2="15"/><use href="#ehR" class="oh" x="1351" y="15"/><text class="num sm" x="1353" y="22">19.78</text></g>
<g id="S29" transform="translate(0,2075.1)"><rect class="ob" x="1185" y="0" width="137" height="30.5"/><text class="bl" x="1256" y="23">S29</text><line class="ol" x1="1322" y1="15" x2="1351" y2="15"/><use href="#ehR" class="oh" x="1351" y="15"/><text class="num sm" x="1353" y="22">19.78</text></g>

<text class="chi" x="90" y="2151">Chi-Square=6979.46, df=2394, P-value=0.00000, RMSEA=0.067</text>
</svg>
